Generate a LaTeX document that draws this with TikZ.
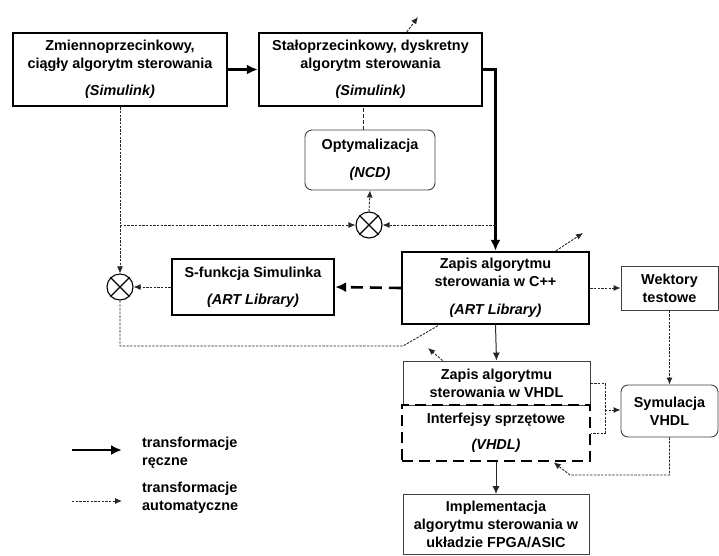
\documentclass[tikz,border=0pt]{standalone}
\usepackage{fontspec}
\setmainfont{Liberation Sans}
\usepackage{tikz}
\usetikzlibrary{arrows.meta,positioning,calc}

\begin{document}
\begin{tikzpicture}[x=1pt,y=-1pt,
  font=\fontsize{14.4}{18}\selectfont\bfseries,
  thickbox/.style={draw,line width=2.3pt,align=center,inner sep=0pt},
  thinbox/.style={draw=black!75,line width=0.9pt,align=center,inner sep=0pt},
  roundbox/.style={thinbox,rounded corners=7pt},
  dashbox/.style={draw,line width=2.6pt,dash pattern=on 11pt off 6pt,inner sep=0pt,align=center},
  mixer/.style={draw,circle,line width=1.1pt,minimum size=26pt,inner sep=0pt},
  manual/.style={line width=2.4pt,-{Latex[length=11pt,width=10pt]}},
  manualdash/.style={line width=2.6pt,dash pattern=on 12pt off 7pt,-{Latex[length=11pt,width=10pt]}},
  autoline/.style={black!85,line width=0.9pt,dash pattern=on 2.4pt off 1.3pt},
  autoarr/.style={autoline,-{Latex[length=7pt,width=6pt]}},
  plainarr/.style={black!85,line width=1pt,-{Latex[length=8pt,width=7pt]}}]
\useasboundingbox (0,0) rectangle (719,555);

\node[thickbox,minimum width=214pt,minimum height=73pt] (cont) at (120,69.5)
  {Zmiennoprzecinkowy,\\ ciągły algorytm sterowania\\[9pt] \textit{(Simulink)}};
\node[thickbox,minimum width=223pt,minimum height=73pt] (disc) at (370.5,69.5)
  {Stałoprzecinkowy, dyskretny\\ algorytm sterowania\\[9pt] \textit{(Simulink)}};
\node[roundbox,minimum width=130pt,minimum height=60pt] (opt) at (370,160)
  {Optymalizacja\\[10pt] \textit{(NCD)}};
\node[mixer] (mixa) at (369,225) {};
\node[mixer] (mixb) at (120,287) {};
\node[thickbox,minimum width=162pt,minimum height=56pt] (sfun) at (253,287)
  {S-funkcja Simulinka\\[9pt] \textit{(ART Library)}};
\node[thickbox,minimum width=187pt,minimum height=72pt] (cpp) at (495.5,288)
  {Zapis algorytmu\\ sterowania w C++\\[10pt] \textit{(ART Library)}};
\node[thinbox,minimum width=97pt,minimum height=44pt] (vect) at (669.5,288)
  {Wektory\\ testowe};
\node[thinbox,minimum width=187pt,minimum height=44pt] (vhdl) at (496.5,383)
  {Zapis algorytmu\\ sterowania w VHDL};
\node[dashbox,minimum width=188pt,minimum height=56pt] (intf) at (496,433)
  {Interfejsy sprzętowe\\[8pt] \textit{(VHDL)}};
\node[roundbox,minimum width=97pt,minimum height=52pt] (sim) at (669.5,411)
  {Symulacja\\ VHDL};
\node[thinbox,minimum width=186pt,minimum height=60pt] (impl) at (496,524.5)
  {Implementacja\\ algorytmu sterowania w\\ układzie FPGA/ASIC};

\foreach \m in {mixa,mixb}
  \draw[line width=1.1pt] (\m.45) -- (\m.225) (\m.135) -- (\m.315);

\coordinate (ja) at (120,225);
\coordinate (q1) at (418,17);
\coordinate (q2) at (583,233);
\coordinate (q3) at (428,348);
\coordinate (ra) at (403,346);
\coordinate (rb) at (570,475);
\coordinate (br) at (605,410);

\draw[manual] (cont) -- (disc);
\draw[manual] (disc.east) -| (cpp.north);
\draw[manualdash] (cpp.west) -- (sfun.east);
\draw[black!85,line width=0.9pt,dash pattern=on 4pt off 2pt] ([xshift=-7pt]opt.north) -- ([xshift=-7pt]opt.north |- disc.south);
\draw[autoarr] (cont.south) -- (mixb.north);
\draw[autoarr] (ja) -- (mixa.west);
\draw[autoarr] (mixa -| cpp.north) -- (mixa.east);
\draw[autoarr] (mixa.north) -- (opt.south);
\draw[autoarr] (sfun.west) -- (mixb.east);
\draw[autoline] (mixb.south) |- (ra) -- ([xshift=38pt]cpp.south west);
\draw[autoarr] (cpp.east) -- (vect.west);
\draw[autoarr] (vect.south) -- (sim.north);
\draw[plainarr] (cpp.south) -- (vhdl.north);
\draw[plainarr] (intf.south) -- (impl.north);
\draw[autoline] (vhdl.east) -| (br) |- (intf.east);
\draw[autoarr] (br) -- (br -| sim.west);
\draw[autoarr] (sim.south) |- (rb) -- ([xshift=153pt]intf.south west);
\draw[autoarr] ([xshift=149pt]disc.north west) -- (q1);
\draw[autoarr] ([xshift=155pt]cpp.north west) -- (q2);
\draw[autoarr] ([xshift=40pt]vhdl.north west) -- (q3);

\coordinate (la) at (72,450);
\coordinate (lb) at (122,450);
\coordinate (lc) at (72,501);
\coordinate (ld) at (122,501);
\draw[manual] (la) -- (lb);
\draw[autoarr] (lc) -- (ld);
\node[anchor=west,align=left,inner sep=0pt] (legman) at (142,453) {transformacje\\ ręczne};
\node[anchor=west,align=left,inner sep=0pt] (legauto) at (142,497.5) {transformacje\\ automatyczne};
\end{tikzpicture}
\end{document}
